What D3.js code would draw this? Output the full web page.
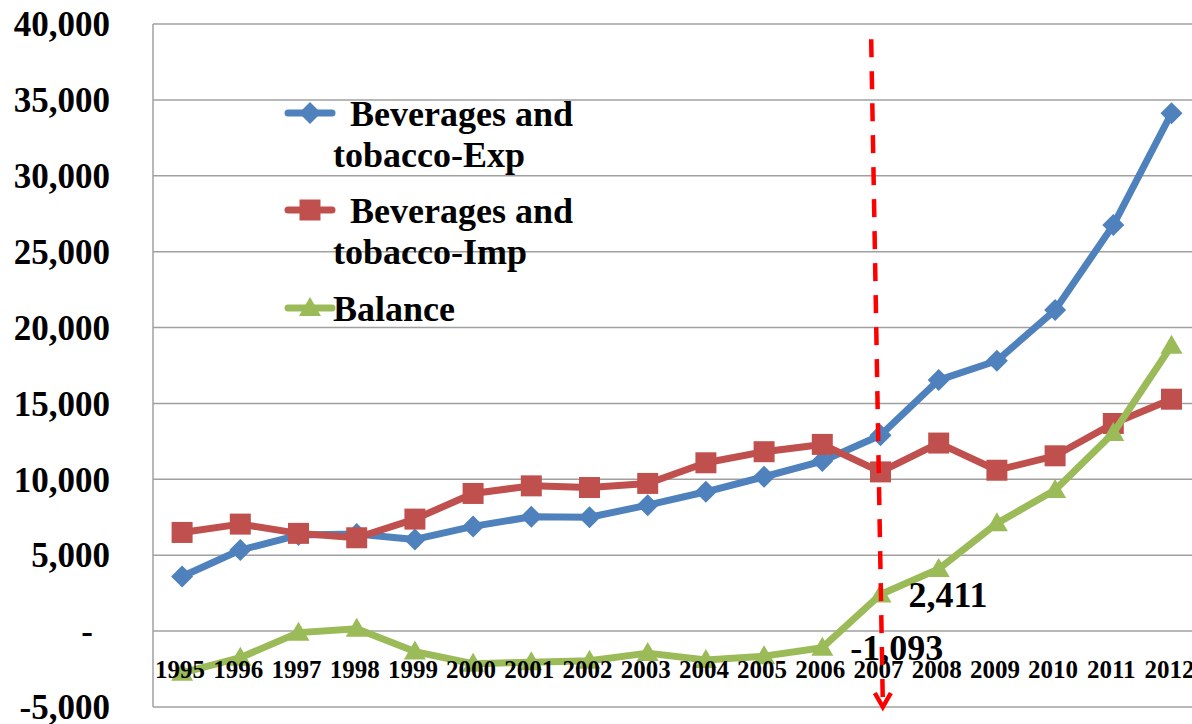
<!DOCTYPE html>
<html>
<head>
<meta charset="utf-8">
<script src="https://cdn.jsdelivr.net/npm/d3@7"></script>
<style>
  body { margin: 0; background: #fff; }
  svg { display: block; font-family: "Liberation Serif", "Times New Roman", serif; font-weight: bold; }
</style>
</head>
<body>
<svg class="chart" width="1192" height="724"></svg>
<script>
// values
var years = ["1995","1996","1997","1998","1999","2000","2001","2002","2003","2004","2005","2006","2007","2008","2009","2010","2011","2012"];
var exportsVals = [3600, 5340, 6330, 6400, 6040, 6900, 7530, 7500, 8300, 9180, 10170, 11200, 12900, 16540, 17810, 21150, 26750, 34120];
var importsVals = [6500, 7050, 6440, 6150, 7380, 9070, 9570, 9460, 9730, 11090, 11820, 12300, 10490, 12390, 10600, 11550, 13680, 15280];
var balanceVals = [-2750, -1750, -100, 150, -1350, -2150, -2050, -1950, -1450, -1900, -1650, -1093, 2411, 4100, 7100, 9300, 13050, 18800];
var yTicks = [-5000, 0, 5000, 10000, 15000, 20000, 25000, 30000, 35000, 40000];
var seriesNames = [[" Beverages and", "tobacco-Exp"], [" Beverages and", "tobacco-Imp"], ["Balance"]];
var labelledYears = ["2006", "2007"];
var arrowYear = "2007", arrowFrom = 39000, arrowTo = -5000;

var colors = ["#4F81BD", "#C0504D", "#9BBB59"];
var shapes = ["diamond", "square", "triangle"];

var svg = d3.select(".chart"),
    margin = {top: 24, left: 153},
    plotRight = 1200.6,
    plotBottom = 707;

var x = d3.scalePoint().domain(years).range([margin.left, plotRight]).padding(0.5);
var y = d3.scaleLinear().domain([-5000, 40000]).range([plotBottom, margin.top]);

// plain hyphen for negatives, like the original
var fmt = d3.formatLocale({decimal: ".", thousands: ",", grouping: [3], currency: ["", ""], minus: "-"}).format(",");

// marker paths centred on 0,0
function marker(shape) {
  if (shape == "diamond") return "M0,-11L11,0L0,11L-11,0Z";
  if (shape == "square") return "M-10.5,-10.5H10.5V10.5H-10.5Z";
  return "M0,-11L11,8L-11,8Z";
}

// gridlines
svg.append("g")
    .attr("class", "grid")
  .selectAll("line")
  .data(yTicks)
  .enter().append("line")
    .attr("x1", margin.left)
    .attr("x2", plotRight)
    .attr("y1", function(d) { return y(d); })
    .attr("y2", function(d) { return y(d); })
    .style("stroke", "#a0a0a0")
    .style("stroke-width", 1.5);

// y axis line
svg.append("line")
    .attr("x1", margin.left).attr("x2", margin.left)
    .attr("y1", y(40000)).attr("y2", y(-5000))
    .style("stroke", "#a0a0a0")
    .style("stroke-width", 1.5);

// y tick labels
svg.append("g")
  .selectAll("text")
  .data(yTicks)
  .enter().append("text")
    .attr("x", margin.left - 43)
    .attr("dx", function(d) { return d === 0 ? -17 : 0; })
    .attr("y", function(d) { return y(d); })
    .attr("dy", "0.35em")
    .attr("text-anchor", "end")
    .style("font-size", "35px")
    .text(function(d) { return d === 0 ? "-" : fmt(d); });

// series lines and markers
var series = [exportsVals, importsVals, balanceVals];
var line = d3.line()
    .x(function(d, i) { return x(years[i]); })
    .y(function(d) { return y(d); });

series.forEach(function(vals, s) {
  svg.append("path")
      .datum(vals)
      .attr("d", line)
      .style("fill", "none")
      .style("stroke", colors[s])
      .style("stroke-width", 7)
      .style("stroke-linejoin", "round");

  svg.append("g")
    .selectAll("path")
    .data(vals)
    .enter().append("path")
      .attr("d", marker(shapes[s]))
      .attr("transform", function(d, i) { return "translate(" + x(years[i]) + "," + y(d) + ")"; })
      .style("fill", colors[s]);
});

// category labels
svg.append("g")
  .selectAll("text")
  .data(years)
  .enter().append("text")
    .attr("x", function(d) { return x(d) - 2; })
    .attr("y", y(0) + 47)
    .attr("text-anchor", "middle")
    .style("font-size", "25px")
    .text(function(d) { return d; });

// data labels on the balance series
svg.append("g")
  .selectAll("text")
  .data(labelledYears)
  .enter().append("text")
    .attr("x", function(d) { return x(d) + 28; })
    .attr("y", function(d) { return y(balanceVals[years.indexOf(d)]); })
    .attr("dy", "0.35em")
    .style("font-size", "36px")
    .text(function(d) { return fmt(balanceVals[years.indexOf(d)]); });

// legend
var legend = svg.append("g").attr("class", "legend");
var legendY = [113, 210, 308];
seriesNames.forEach(function(lines, s) {
  var g = legend.append("g").attr("transform", "translate(288," + legendY[s] + ")");
  g.append("line")
      .attr("x1", 0).attr("x2", 44)
      .style("stroke", colors[s])
      .style("stroke-width", 7)
      .style("stroke-linecap", "round");
  g.append("path")
      .attr("d", marker(shapes[s]))
      .attr("transform", "translate(22,0)")
      .style("fill", colors[s]);
  lines.forEach(function(t, k) {
    g.append("text")
        .attr("x", 45)
        .attr("dx", lines.length > 1 && k == 0 ? 8 : 0)
        .attr("y", 13 + k * 41)
        .style("font-size", "36px")
        .style("white-space", "pre")
        .text(t);
  });
});

// red dashed arrow at 2007
var step = x.step();
var ax1 = x(arrowYear) - 0.16 * step, ax2 = x(arrowYear) + 0.04 * step;
var ay1 = y(arrowFrom), ay2 = y(arrowTo);
svg.append("line")
    .attr("x1", ax1).attr("y1", ay1)
    .attr("x2", ax2).attr("y2", ay2 - 3)
    .style("stroke", "#ff0000")
    .style("stroke-width", 4.5)
    .style("stroke-dasharray", "18,14");
svg.append("path")
    .attr("d", "M" + (ax2 - 8) + "," + (ay2 - 14) + "L" + ax2 + "," + ay2 + "L" + (ax2 + 8) + "," + (ay2 - 14))
    .style("fill", "none")
    .style("stroke", "#ff0000")
    .style("stroke-width", 4.5);
</script>
</body>
</html>
